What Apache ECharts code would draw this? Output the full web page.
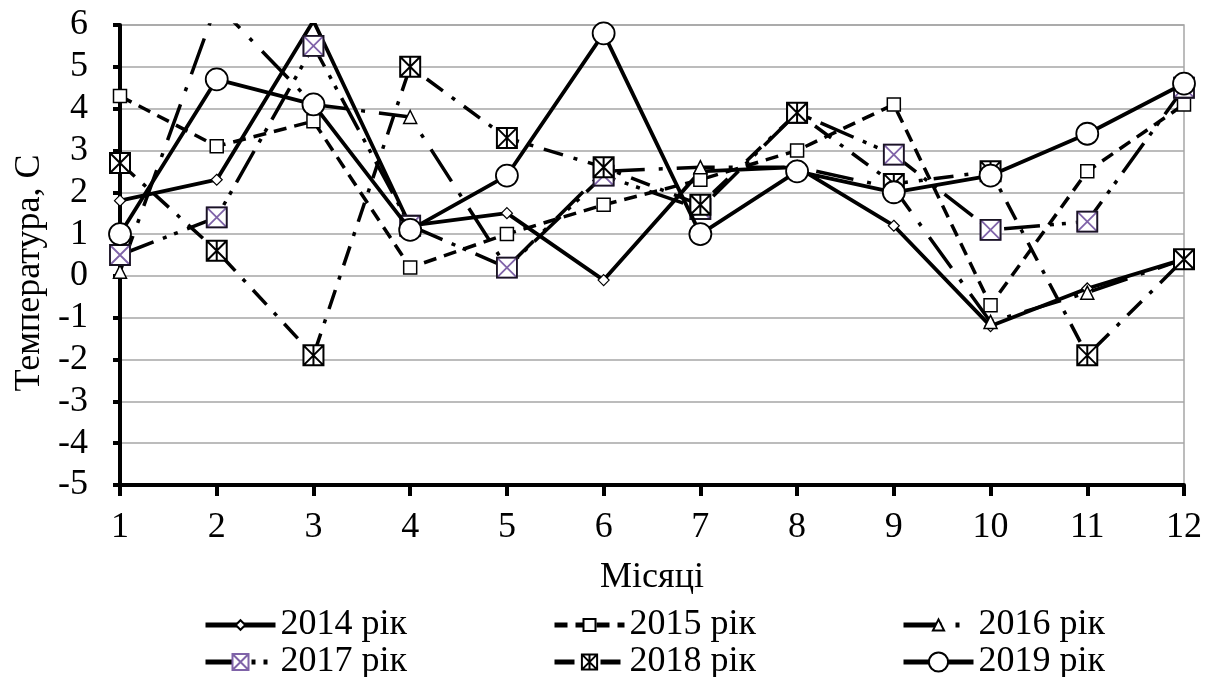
<!DOCTYPE html>
<html>
<head>
<meta charset="utf-8">
<script src="https://cdn.jsdelivr.net/npm/echarts@6/dist/echarts.min.js"></script>
<style>
html,body{margin:0;padding:0;background:#fff;}
#chart{width:1205px;height:677px;}
</style>
</head>
<body>
<div id="chart"></div>
<script>
// ---- data ----
const months = ['1','2','3','4','5','6','7','8','9','10','11','12'];
const yTicks = [-5,-4,-3,-2,-1,0,1,2,3,4,5,6];
const seriesNames = ['2014 рік','2015 рік','2016 рік','2017 рік','2018 рік','2019 рік'];
const t2014 = [1.8, 2.3, 6.1, 1.2, 1.5, -0.1, 2.5, 2.6, 1.2, -1.2, -0.3, 0.4];
const t2015 = [4.3, 3.1, 3.7, 0.2, 1.0, 1.7, 2.3, 3.0, 4.1, -0.7, 2.5, 4.1];
const t2016 = [0.1, 6.5, 4.1, 3.8, 0.2, 2.5, 2.6, 2.6, 2.1, -1.1, -0.4, 0.4];
const t2017 = [0.5, 1.4, 5.5, 1.2, 0.2, 2.4, 1.6, 3.9, 2.9, 1.1, 1.3, 4.5];
const t2018 = [2.7, 0.6, -1.9, 5.0, 3.3, 2.6, 1.7, 3.9, 2.2, 2.5, -1.9, 0.4];
const t2019 = [1.0, 4.7, 4.1, 1.1, 2.4, 5.8, 1.0, 2.5, 2.0, 2.4, 3.4, 4.6];

const FONT = "'Times New Roman', 'Liberation Serif', serif";
const FS = 36;
const GRIDC = '#a6a6a6';
const PURPLE = '#7f63a8';

const xSquarePath = 'path://M0,0 L10,0 L10,10 L0,10 Z M0,0 L10,10 M10,0 L0,10';
const xPlusSquarePath = 'path://M0,0 L10,0 L10,10 L0,10 Z M0,0 L10,10 M10,0 L0,10 M5,0 L5,10';

function lineSeries(name, data, opts) {
  return Object.assign({
    name: name,
    type: 'line',
    data: data,
    clip: true,
    showAllSymbol: true,
    emphasis: {disabled: true}
  }, opts);
}

const series = [
  lineSeries(seriesNames[0], t2014, {
    symbol: 'diamond', symbolSize: 11,
    lineStyle: {color: '#000', width: 3.8, type: 'solid'},
    itemStyle: {color: '#fff', borderColor: '#000', borderWidth: 1.2},
    z: 2
  }),
  lineSeries(seriesNames[1], t2015, {
    symbol: 'rect', symbolSize: 13,
    lineStyle: {color: '#000', width: 3.5, type: [13, 8]},
    itemStyle: {color: '#fff', borderColor: '#000', borderWidth: 1.5},
    z: 3
  }),
  lineSeries(seriesNames[2], t2016, {
    symbol: 'triangle', symbolSize: 13,
    lineStyle: {color: '#000', width: 3.5, type: [38, 14, 4, 14]},
    itemStyle: {color: '#fff', borderColor: '#000', borderWidth: 1.5},
    z: 4
  }),
  lineSeries(seriesNames[3], t2017, {
    symbol: xSquarePath, symbolSize: 20,
    lineStyle: {color: '#000', width: 3.5, type: [36, 10, 4, 8, 4, 10]},
    itemStyle: {color: '#fff', borderColor: PURPLE, borderWidth: 1.8},
    z: 5
  }),
  {
    name: '2017 frame', type: 'scatter', data: t2017,
    symbol: 'rect', symbolSize: 20, silent: true,
    itemStyle: {color: 'rgba(0,0,0,0)', borderColor: '#000', borderWidth: 1.8},
    z: 5
  },
  lineSeries(seriesNames[4], t2018, {
    symbol: xPlusSquarePath, symbolSize: 20,
    lineStyle: {color: '#000', width: 3.5, type: [20, 11, 4, 11]},
    itemStyle: {color: '#fff', borderColor: '#000', borderWidth: 2},
    z: 6
  }),
  lineSeries(seriesNames[5], t2019, {
    symbol: 'circle', symbolSize: 22,
    lineStyle: {color: '#000', width: 3.8, type: 'solid'},
    itemStyle: {color: '#fff', borderColor: '#000', borderWidth: 1.8},
    z: 7
  })
];

const legendPos = [
  {left: 203, top: 607, h: 12},
  {left: 552, top: 607, h: 15},
  {left: 901, top: 607, h: 14},
  {left: 203, top: 644, h: 20},
  {left: 552, top: 644, h: 19},
  {left: 901, top: 644, h: 24}
];
const legends = seriesNames.map((n, i) => ({
  data: [n],
  left: legendPos[i].left,
  top: legendPos[i].top,
  orient: 'horizontal',
  padding: 0,
  itemWidth: 70,
  itemHeight: legendPos[i].h,
  itemGap: 0,
  lineStyle: {width: 5},
  textStyle: {fontFamily: FONT, fontSize: FS, color: '#000'},
  selectedMode: false
}));

const chart = echarts.init(document.getElementById('chart'), null, {renderer: 'canvas'});
chart.setOption({
  animation: false,
  backgroundColor: '#fff',
  grid: {left: 120, right: 18, top: 25, bottom: 192, show: true, borderColor: GRIDC, borderWidth: 1.5, backgroundColor: 'transparent'},
  legend: legends,
  xAxis: {
    type: 'category',
    data: months,
    boundaryGap: false,
    axisLine: {onZero: false, lineStyle: {color: '#000', width: 4}},
    axisTick: {show: true, length: 11, lineStyle: {color: '#000', width: 4}},
    axisLabel: {fontFamily: FONT, fontSize: FS, color: '#000', margin: 25},
    splitLine: {show: false},
    name: 'Місяці',
    nameLocation: 'middle',
    nameGap: 75,
    nameTextStyle: {fontFamily: FONT, fontSize: FS, color: '#000'}
  },
  yAxis: {
    type: 'value',
    min: yTicks[0],
    max: yTicks[yTicks.length - 1],
    interval: 1,
    axisLine: {show: true, lineStyle: {color: '#000', width: 4}},
    axisTick: {show: true, length: 7, lineStyle: {color: '#000', width: 4}},
    axisLabel: {fontFamily: FONT, fontSize: FS, color: '#000', margin: 32},
    splitLine: {show: true, lineStyle: {color: GRIDC, width: 1.5}},
    name: 'Температура, С',
    nameLocation: 'middle',
    nameRotate: 90,
    nameGap: 72,
    nameTextStyle: {fontFamily: FONT, fontSize: FS, color: '#000', padding: [0, 36, 0, 0]}
  },
  series: series
});
</script>
</body>
</html>
